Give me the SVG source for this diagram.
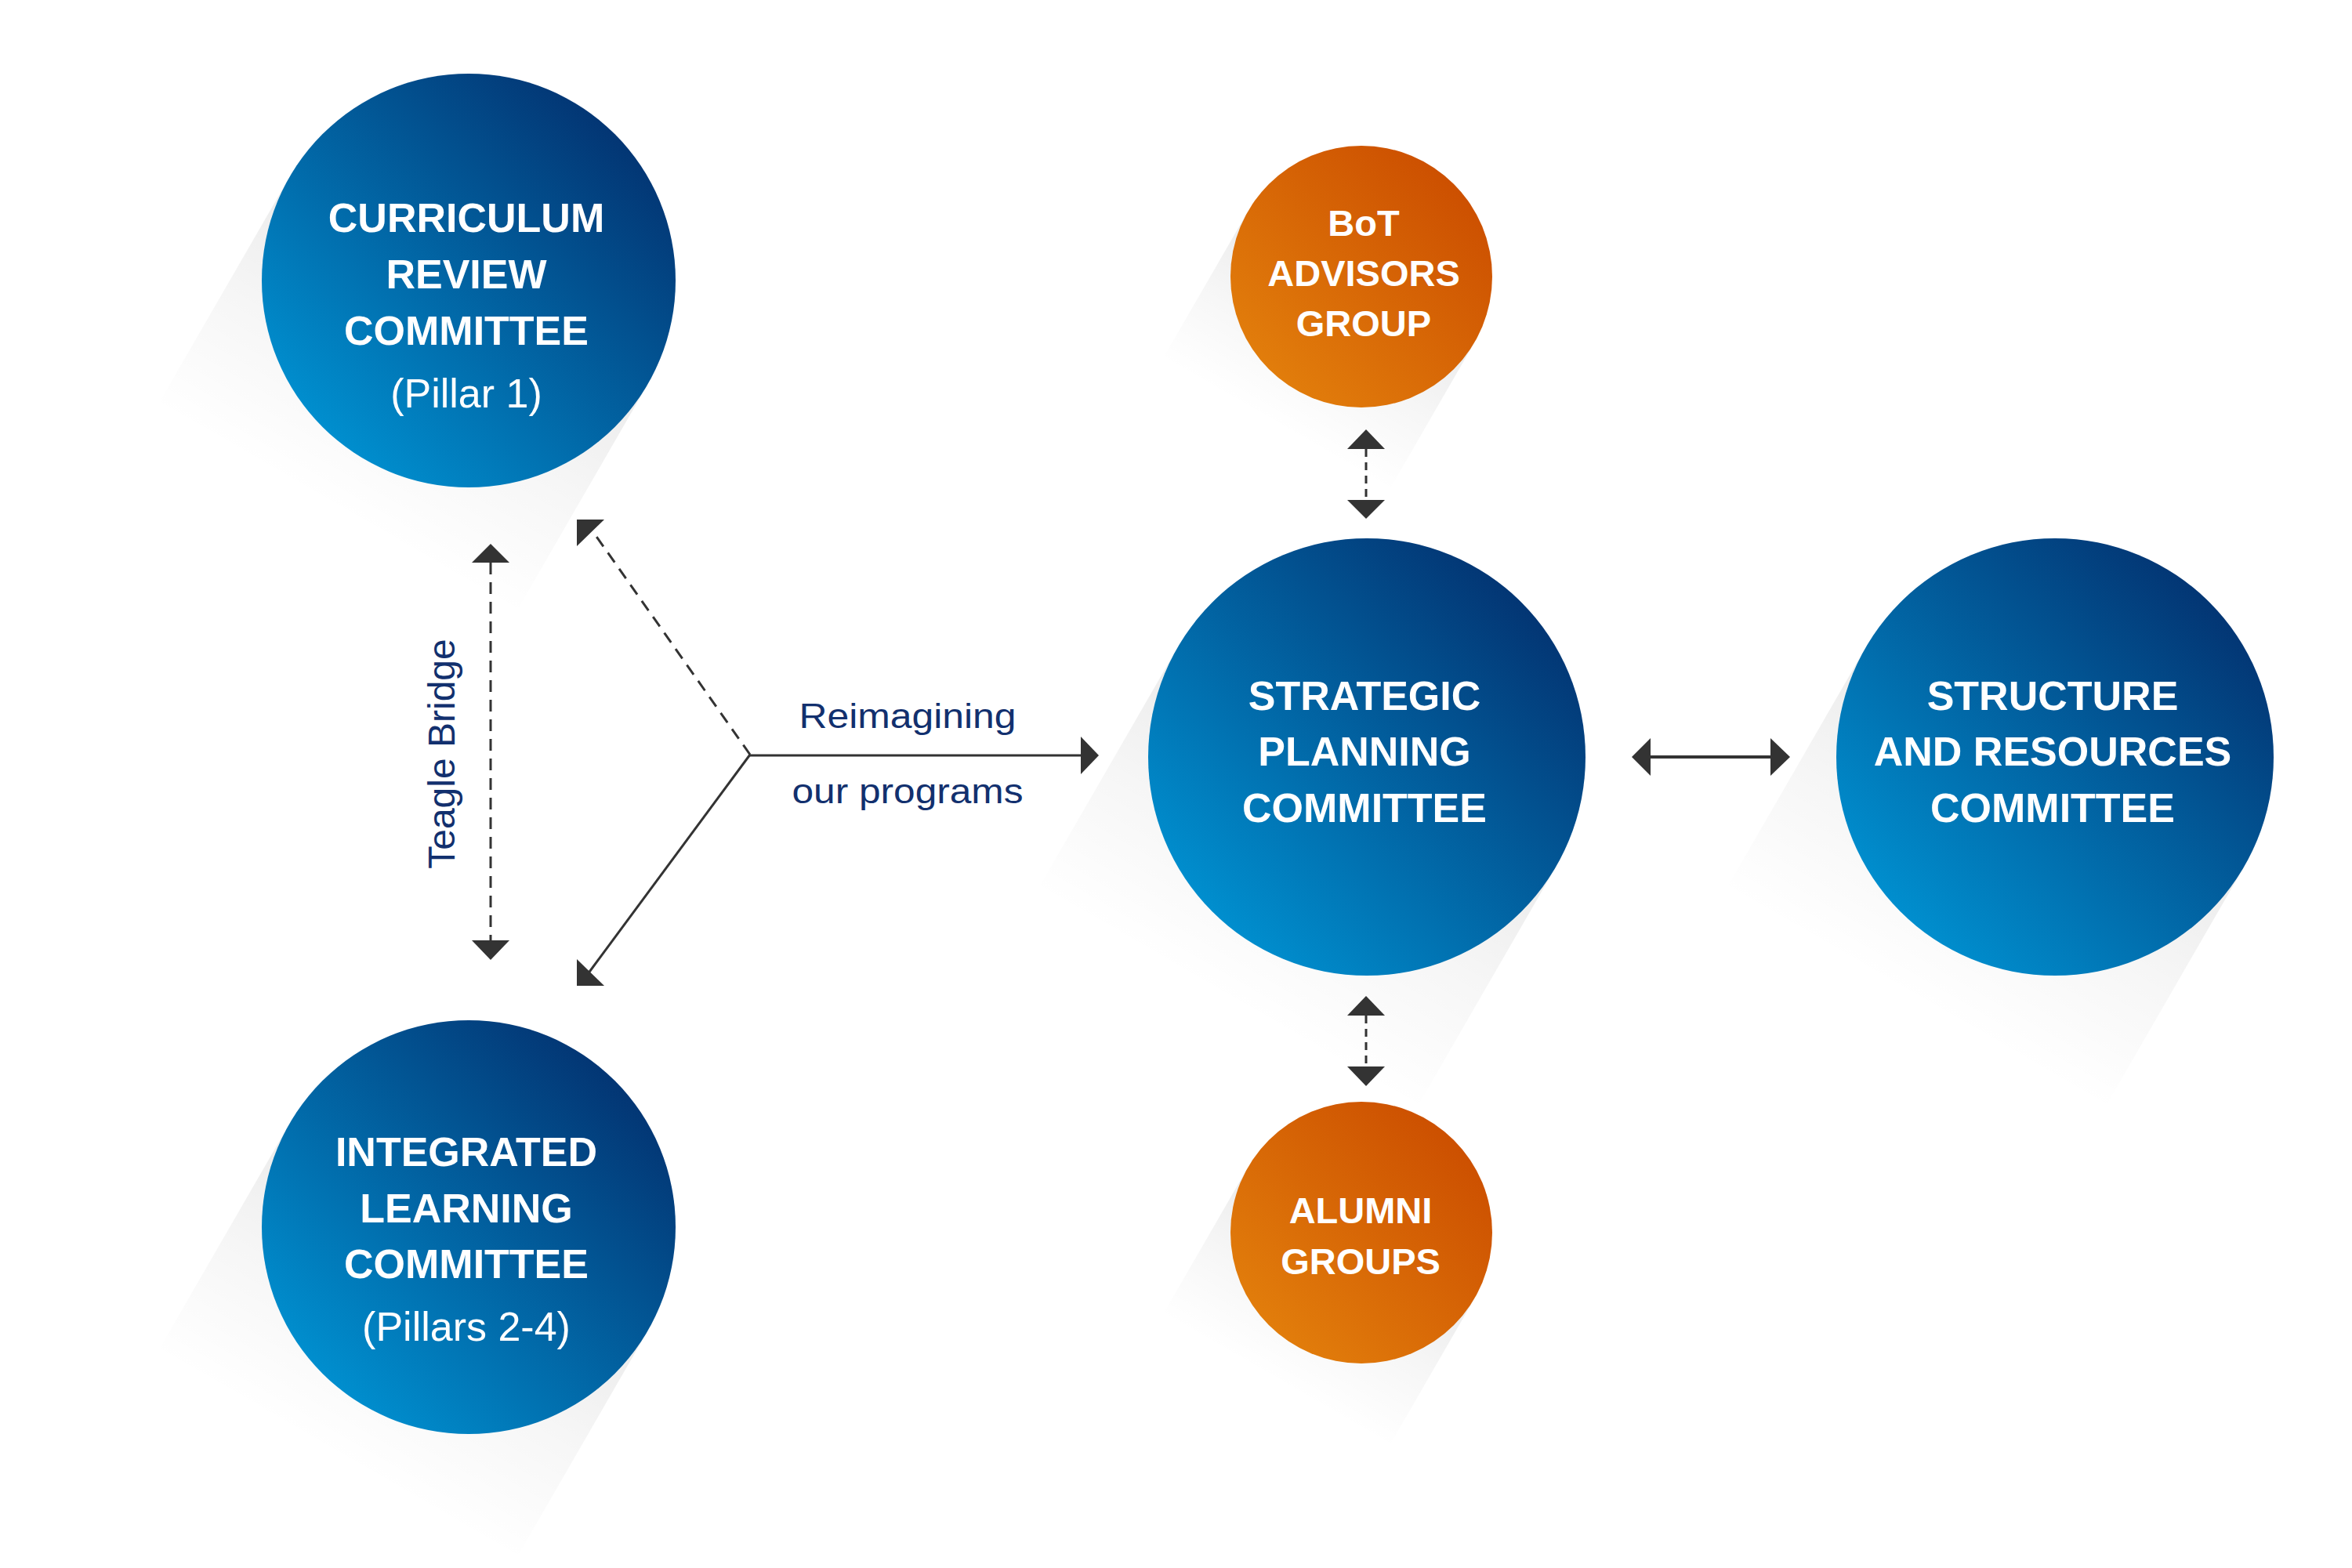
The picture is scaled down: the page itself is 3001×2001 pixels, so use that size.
<svg xmlns="http://www.w3.org/2000/svg" width="3001" height="2001" viewBox="0 0 3001 2001">
<defs>
<linearGradient id="blue" x1="0.1" y1="0.9" x2="0.9" y2="0.1">
<stop offset="0" stop-color="#0094d4"/>
<stop offset="1" stop-color="#03306e"/>
</linearGradient>
<linearGradient id="orange" x1="0.1" y1="0.9" x2="0.9" y2="0.1">
<stop offset="0" stop-color="#e3800c"/>
<stop offset="1" stop-color="#cb4d00"/>
</linearGradient>
<linearGradient id="shade" x1="0" y1="0" x2="0" y2="1">
<stop offset="0" stop-color="#000" stop-opacity="0.08"/>
<stop offset="0.5" stop-color="#000" stop-opacity="0.035"/>
<stop offset="1" stop-color="#000" stop-opacity="0"/>
</linearGradient>
<style>
.hd{font-family:"Liberation Sans",Arial,sans-serif;font-weight:700;fill:#fff;text-anchor:middle;}
.big{font-size:52px;}
.sm{font-size:47px;}
.sub{font-family:"Liberation Sans",Arial,sans-serif;font-weight:400;font-size:52px;fill:#fff;text-anchor:middle;}
.lbl{font-family:"Liberation Sans",Arial,sans-serif;font-weight:400;fill:#12306e;text-anchor:middle;}
.dash{stroke:#333;stroke-width:3;fill:none;stroke-dasharray:15 10;}
.dash2{stroke:#333;stroke-width:3;fill:none;stroke-dasharray:10 7;}
.solid{stroke:#333;stroke-width:3;fill:none;}
.thick{stroke:#333;stroke-width:4;fill:none;}
.head{fill:#333;}
</style>
</defs>
<rect width="3001" height="2001" fill="#fff"/>

<g id="shadows">
<rect x="-264" y="0" width="528" height="340" fill="url(#shade)" transform="translate(598,358) rotate(30)"/>
<rect x="-264" y="0" width="528" height="340" fill="url(#shade)" transform="translate(598,1566) rotate(30)"/>
<rect x="-279" y="0" width="558" height="360" fill="url(#shade)" transform="translate(1744,966) rotate(30)"/>
<rect x="-279" y="0" width="558" height="360" fill="url(#shade)" transform="translate(2622,966) rotate(30)"/>
<rect x="-167" y="0" width="334" height="220" fill="url(#shade)" transform="translate(1737,353) rotate(30)"/>
<rect x="-167" y="0" width="334" height="220" fill="url(#shade)" transform="translate(1737,1573) rotate(30)"/>
</g>

<g id="connectors">
<line class="dash" x1="626" y1="718" x2="626" y2="1200"/>
<polygon class="head" points="626,694 602,718 650,718"/>
<polygon class="head" points="626,1225 602,1200 650,1200"/>
<line class="dash" x1="957" y1="963" x2="757" y2="679"/>
<polygon class="head" points="736,663 771,663 736,697"/>
<line class="solid" x1="957" y1="963" x2="750" y2="1243"/>
<polygon class="head" points="736,1258 736,1224 771,1258"/>
<line class="solid" x1="957" y1="964" x2="1381" y2="964"/>
<polygon class="head" points="1402,964 1379,940 1379,988"/>
<line class="dash2" x1="1743" y1="573" x2="1743" y2="638"/>
<polygon class="head" points="1743,548 1719,573 1767,573"/>
<polygon class="head" points="1743,662 1719,638 1767,638"/>
<line class="dash2" x1="1743" y1="1296" x2="1743" y2="1361"/>
<polygon class="head" points="1743,1271 1719,1296 1767,1296"/>
<polygon class="head" points="1743,1386 1719,1361 1767,1361"/>
<line class="thick" x1="2104" y1="966" x2="2261" y2="966"/>
<polygon class="head" points="2082,966 2106,942 2106,990"/>
<polygon class="head" points="2284,966 2259,942 2259,990"/>
<text class="lbl" font-size="45" x="1158" y="929" textLength="277" lengthAdjust="spacingAndGlyphs">Reimagining</text>
<text class="lbl" font-size="45" x="1158" y="1025" textLength="295" lengthAdjust="spacingAndGlyphs">our programs</text>
<text class="lbl" font-size="48" transform="translate(580,962) rotate(-90)" x="0" y="0">Teagle Bridge</text>
</g>

<g id="curriculum">
<circle cx="598" cy="358" r="264" fill="url(#blue)"/>
<text class="hd big" x="595" y="296">CURRICULUM</text>
<text class="hd big" x="595" y="368">REVIEW</text>
<text class="hd big" x="595" y="440">COMMITTEE</text>
<text class="sub" x="595" y="520">(Pillar 1)</text>
</g>

<g id="integrated">
<circle cx="598" cy="1566" r="264" fill="url(#blue)"/>
<text class="hd big" x="595" y="1488">INTEGRATED</text>
<text class="hd big" x="595" y="1560">LEARNING</text>
<text class="hd big" x="595" y="1631">COMMITTEE</text>
<text class="sub" x="595" y="1711">(Pillars 2-4)</text>
</g>

<g id="strategic">
<circle cx="1744" cy="966" r="279" fill="url(#blue)"/>
<text class="hd big" x="1741" y="906">STRATEGIC</text>
<text class="hd big" x="1741" y="977">PLANNING</text>
<text class="hd big" x="1741" y="1049">COMMITTEE</text>
</g>

<g id="structure">
<circle cx="2622" cy="966" r="279" fill="url(#blue)"/>
<text class="hd big" x="2619" y="906">STRUCTURE</text>
<text class="hd big" x="2619" y="977">AND RESOURCES</text>
<text class="hd big" x="2619" y="1049">COMMITTEE</text>
</g>

<g id="bot">
<circle cx="1737" cy="353" r="167" fill="url(#orange)"/>
<text class="hd sm" x="1740" y="301">BoT</text>
<text class="hd sm" x="1740" y="365">ADVISORS</text>
<text class="hd sm" x="1740" y="429">GROUP</text>
</g>

<g id="alumni">
<circle cx="1737" cy="1573" r="167" fill="url(#orange)"/>
<text class="hd sm" x="1736" y="1561">ALUMNI</text>
<text class="hd sm" x="1736" y="1626">GROUPS</text>
</g>
</svg>
